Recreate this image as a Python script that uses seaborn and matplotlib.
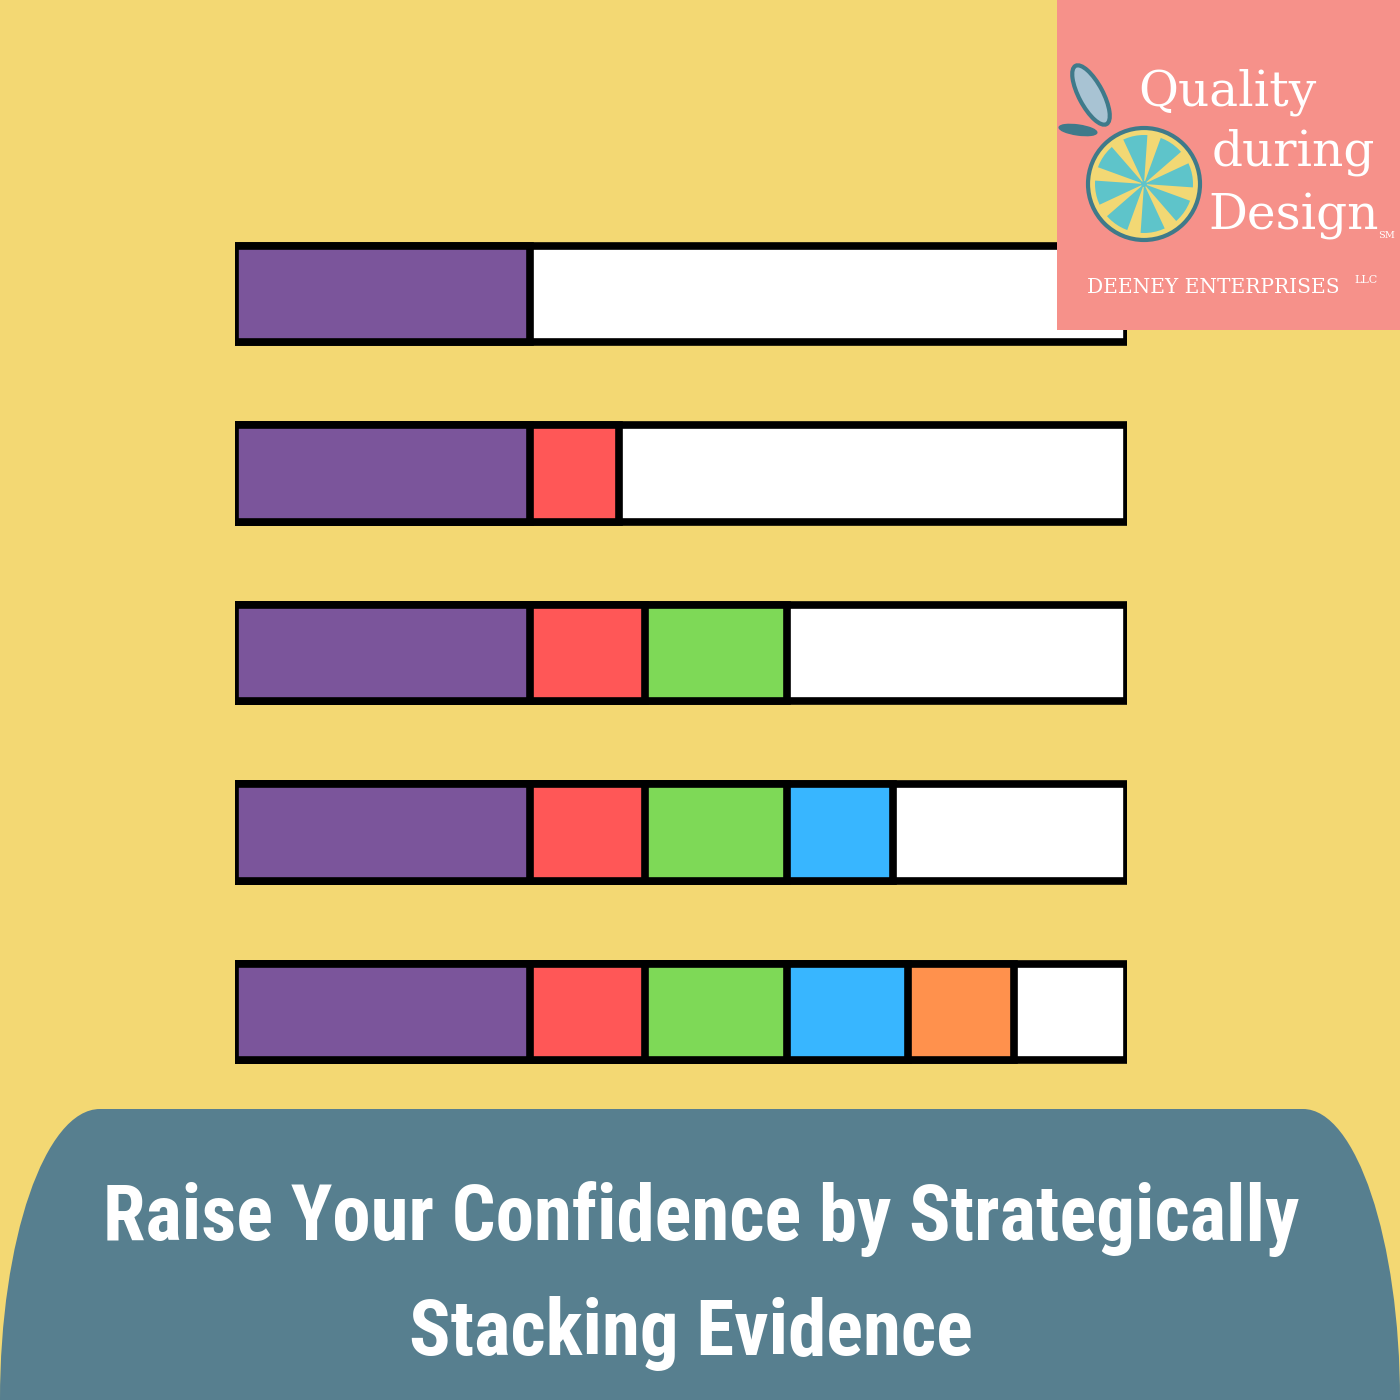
import numpy as np
import pandas as pd
import matplotlib
matplotlib.use("Agg")
import matplotlib.pyplot as plt
import seaborn as sns
from matplotlib.patches import Rectangle, Circle, Wedge, Ellipse, PathPatch
from matplotlib.path import Path

# stacks of evidence, one row per stack (share of the full bar, %)
rows = ["Stack 1", "Stack 2", "Stack 3", "Stack 4", "Stack 5"]
purple = [33.1, 33.1, 33.1, 33.1, 33.1]
red = [0, 9.9, 12.9, 12.9, 12.9]
green = [0, 0, 15.9, 15.9, 15.9]
blue = [0, 0, 0, 11.9, 13.6]
orange = [0, 0, 0, 0, 11.8]
total = [100, 100, 100, 100, 100]

seg_names = ["purple", "red", "green", "blue", "orange"]
seg_colors = ["#7B559B", "#FF5757", "#7ED957", "#38B6FF", "#FF914D"]

title_lines = ["Raise Your Confidence by Strategically", "Stacking Evidence"]

BG = "#F3D873"
TEAL = "#577F8F"
PINK = "#F6918A"

sns.set_theme(style="white")

df = pd.DataFrame({"row": rows, "purple": purple, "red": red, "green": green,
                   "blue": blue, "orange": orange, "total": total})
# cumulative ends of each segment
cum = df[seg_names].cumsum(axis=1)

fig = plt.figure(figsize=(14, 14), dpi=100)
fig.patch.set_facecolor(BG)

# bars
ax = fig.add_axes([235 / 1400, 1 - 1101.75 / 1400, 892 / 1400, 897.5 / 1400], zorder=1)
ax.patch.set_alpha(0)
lw = 5.5
sns.barplot(data=df, x="total", y="row", order=rows, orient="h", color="white",
            saturation=1, edgecolor="black", linewidth=lw, width=0.54, ax=ax)
for name, col in reversed(list(zip(seg_names, seg_colors))):
    sub = pd.DataFrame({"row": df["row"], "end": cum[name]})[df[name] > 0]
    sns.barplot(data=sub, x="end", y="row", order=rows, orient="h", color=col,
                saturation=1, edgecolor="black", linewidth=lw, width=0.54, ax=ax)
ax.set_xlim(0, 100)
ax.set_ylim(4.5, -0.5)
ax.axis("off")

# overlay in pixel coordinates
ov = fig.add_axes([0, 0, 1, 1], zorder=2)
ov.set_xlim(0, 1400)
ov.set_ylim(1400, 0)
ov.axis("off")
ov.patch.set_alpha(0)

# logo box
ov.add_patch(Rectangle((1057, 0), 343, 330, facecolor=PINK, edgecolor="none"))
ov.add_patch(Ellipse((1091, 95), 24, 66, angle=-28, facecolor="#A8C3D3",
                     edgecolor="#3F7A8A", lw=3))
ov.add_patch(Ellipse((1078, 130), 38, 10, angle=8, facecolor="#3F7A8A",
                     edgecolor="#3F7A8A", lw=1))
ov.add_patch(Circle((1144, 184), 56, facecolor="#F2D874", edgecolor="#3F7A8A", lw=3))
ov.add_patch(Circle((1144, 184), 49, facecolor="#5EC4CA", edgecolor="none"))
for a in np.arange(0, 360, 45) + 12:
    ov.add_patch(Wedge((1144, 184), 50, a - 8, a + 8, facecolor="#F2D874",
                       edgecolor="none"))
ov.add_patch(Circle((1144, 184), 3, facecolor="#5EC4CA", edgecolor="none"))

serif = "DejaVu Serif"
ov.text(1138, 106, "Quality", color="white", fontsize=35, family=serif,
        ha="left", va="baseline")
ov.text(1212, 166, "during", color="white", fontsize=35, family=serif,
        ha="left", va="baseline")
ov.text(1208, 229, "Design", color="white", fontsize=35, family=serif,
        ha="left", va="baseline")
ov.text(1378, 238, "SM", color="white", fontsize=7, family=serif,
        ha="left", va="baseline")
ov.text(1087, 293, "DEENEY ENTERPRISES", color="white", fontsize=14.5, family=serif,
        ha="left", va="baseline")
ov.text(1354, 283, "LLC", color="white", fontsize=8, family=serif,
        ha="left", va="baseline")

# bottom banner with tall rounded top corners
verts = [(0, 1400), (0, 1240), (45, 1109), (100, 1109),
         (1303, 1109), (1356, 1109), (1400, 1240), (1400, 1400), (0, 1400)]
codes = [Path.MOVETO, Path.CURVE4, Path.CURVE4, Path.CURVE4,
         Path.LINETO, Path.CURVE4, Path.CURVE4, Path.CURVE4, Path.CLOSEPOLY]
ov.add_patch(PathPatch(Path(verts, codes), facecolor=TEAL, edgecolor="none"))

tfam = ["Roboto Condensed", "DejaVu Sans Condensed", "Liberation Sans Narrow",
        "Roboto", "DejaVu Sans"]
t1 = ov.text(701, 1240, title_lines[0], color="white", fontsize=50, family=tfam,
             weight="bold", ha="center", va="baseline")
t2 = ov.text(691, 1355, title_lines[1], color="white", fontsize=50, family=tfam,
             weight="bold", ha="center", va="baseline")
# fit the first line to its width in the reference (~1197 px)
r = fig.canvas.get_renderer()
w = t1.get_window_extent(r).width
fs = 50 * 1197 / w
t1.set_fontsize(fs)
t2.set_fontsize(fs)

fig.savefig("out.png", dpi=100, facecolor=BG)
